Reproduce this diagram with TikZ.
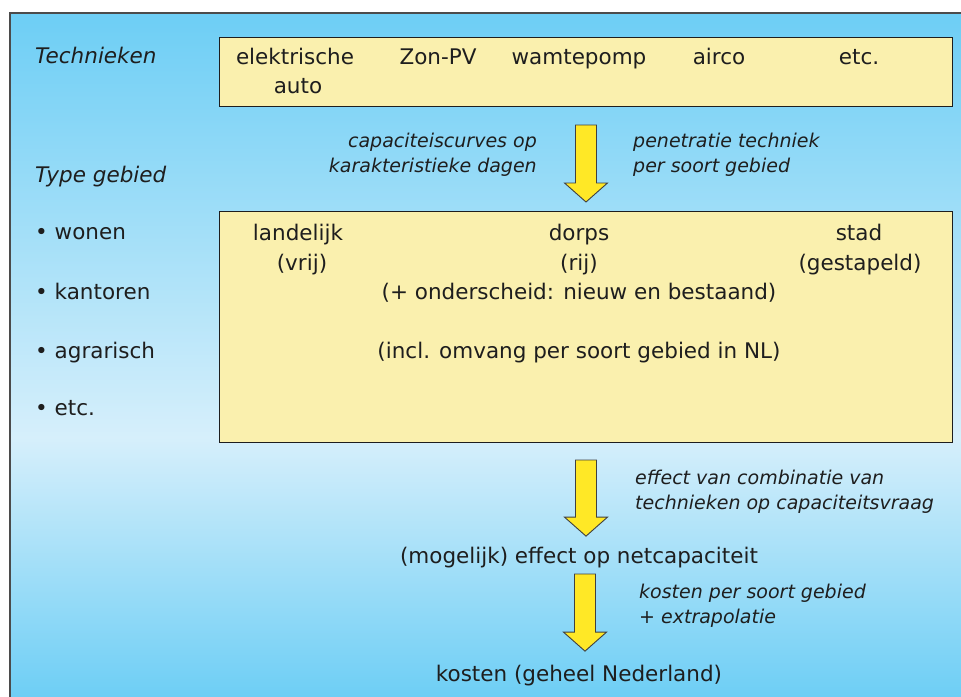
\documentclass[tikz,border=0pt]{standalone}
\usepackage{fontspec}
\setmainfont{DejaVu Sans}
\usetikzlibrary{positioning,calc}

\definecolor{boxyellow}{HTML}{FAF0AE}
\definecolor{arrowyellow}{HTML}{FFE826}
\definecolor{skyblue}{HTML}{6DCEF5}
\definecolor{skylight}{HTML}{D6EFFB}
\definecolor{ink}{HTML}{1E1E1E}
\pgfdeclareverticalshading{sky}{100bp}{color(0bp)=(skyblue); color(25bp)=(skyblue); color(44bp)=(skylight); color(75bp)=(skyblue); color(100bp)=(skyblue)}

% fat yellow arrow, straight down from #1 to the height of #2
\newcommand\blockarrow[2]{%
  \draw[yarr] let \p1=(#1), \p2=(#2) in
    (\x1-10.5,\y1) -- (\x1+10.5,\y1) -- (\x1+10.5,\y2+19) -- (\x1+21.5,\y2+19)
    -- (\x1,\y2) -- (\x1-21.5,\y2+19) -- (\x1-10.5,\y2+19) -- cycle;}

\begin{document}
\begin{tikzpicture}[x=1pt, y=-1pt,
  every node/.style={text=ink, anchor=base, font=\fontsize{21.5}{29}\selectfont},
  lbl/.style={anchor=base west, inner sep=0pt},
  note/.style={font=\fontsize{19}{25}\selectfont\itshape, align=left, inner sep=0pt},
  box/.style={draw=ink, line width=1pt, fill=boxyellow, anchor=north west, inner sep=0pt},
  yarr/.style={draw=ink!85, line width=0.9pt, fill=arrowyellow, line join=miter}]
\useasboundingbox (0,0) rectangle (961,696);
\shade[shading=sky, draw=ink!80, line width=1.2pt] (10,13) rectangle (963,698);

% left column
\node[lbl, font=\fontsize{21.5}{29}\selectfont\itshape] (techn) at (35,63) {Technieken};
\node[lbl, font=\fontsize{21.5}{29}\selectfont\itshape] (type) at (35,182) {Type gebied};
\node[lbl] (wonen) at (35,239) {\textbullet\ wonen};
\node[lbl] (kantoren) at (35,299) {\textbullet\ kantoren};
\node[lbl] (agrarisch) at (35,358) {\textbullet\ agrarisch};
\node[lbl] (etcleft) at (35,415) {\textbullet\ etc.};

% boxes
\node[box, minimum width=733pt, minimum height=69pt] (boxtech) at (219,37) {};
\node[box, minimum width=733pt, minimum height=231pt] (boxgebied) at (219,211) {};

% techniques
\node (elektr) at (295,64) {elektrische};
\node (auto) at (298,93) {auto};
\node (zonpv) at (438,64) {Zon-PV};
\node (pomp) at (579,64) {wamtepomp};
\node (airco) at (719,64) {airco};
\node (etcright) at (859,64) {etc.};

% area types
\node (landelijk) at (298,240) {landelijk};
\node (vrij) at (302,270) {(vrij)};
\node (dorps) at (579,240) {dorps};
\node (rij) at (579,270) {(rij)};
\node (stad) at (859,240) {stad};
\node (gestapeld) at (860,270) {(gestapeld)};
\node (nieuw) at (579,299) {(+ onderscheid: nieuw en bestaand)};
\node (omvang) at (579,358) {(incl. omvang per soort gebied in NL)};

% results
\node (effect) at (579,563) {(mogelijk) effect op netcapaciteit};
\node (kosten) at (579,681) {kosten (geheel Nederland)};

% arrows
\blockarrow{[yshift=-18pt]boxtech.south}{[yshift=9pt]boxgebied.north}
\blockarrow{[yshift=-17pt]boxgebied.south}{[yshift=7pt]effect.north}
\blockarrow{[xshift=6pt, yshift=-3pt]effect.south}{[yshift=10pt]kosten.north}

% arrow notes (base = last line)
\node[note, align=right, anchor=base east] (curves) at (537,172) {capaciteiscurves op\\karakteristieke dagen};
\node[note, anchor=base west] (penetratie) at (633,172) {penetratie techniek\\per soort gebied};
\node[note, anchor=base west] (combinatie) at (635,509) {effect van combinatie van\\technieken op capaciteitsvraag};
\node[note, anchor=base west] (extrapol) at (639,623) {kosten per soort gebied\\+ extrapolatie};
\end{tikzpicture}
\end{document}
